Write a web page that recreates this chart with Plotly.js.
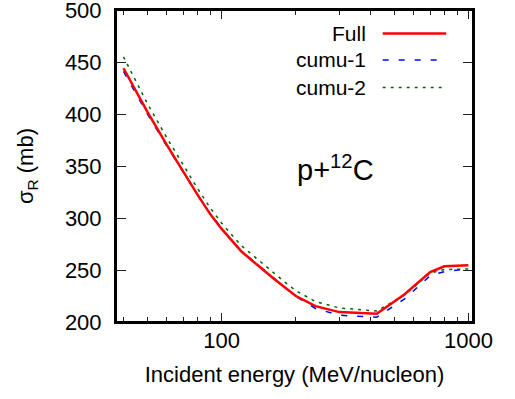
<!DOCTYPE html>
<html>
<head>
<meta charset="utf-8">
<script src="https://cdn.plot.ly/plotly-3.0.1.min.js"></script>
<style>html,body{margin:0;padding:0;background:#fff}#chart{width:515px;height:399px}</style>
</head>
<body>
<div id="chart"></div>
<script>
// Incident energy (MeV/nucleon)
const energy = [40, 50, 60, 70, 80, 90, 100, 120, 140, 160, 180, 200, 240, 300, 425, 550, 700, 800, 1000];
// Reaction cross section sigma_R (mb)
const full  = [444, 402, 370, 344, 322, 303.5, 289.5, 268, 254.5, 243, 233.5, 225, 215.2, 209.5, 208, 226.5, 248, 253.5, 254.5];
const cumu1 = [441, 400, 369, 343.5, 322, 304, 290, 268.5, 255, 243.5, 233.5, 224.5, 213, 206.5, 204.5, 222, 244.5, 248.5, 251];
const cumu2 = [455, 410, 377, 350.5, 328, 309.5, 295, 273.5, 260, 248, 238.5, 230, 219.7, 213.5, 210.5, 226, 247, 250.5, 251];
const seriesNames = ['Full', 'cumu-1', 'cumu-2'];
const yTicks = [200, 250, 300, 350, 400, 450, 500];

const FONT = 'Liberation Sans, Arial, sans-serif';
const FS = 22;
const styles = [
  {color: '#ff0000', width: 2.5, dash: 'solid'},
  {color: '#0000ff', width: 1.5, dash: '6px,10px'},
  {color: '#006400', width: 1.5, dash: '3px,5px'}
];
const ys = [full, cumu1, cumu2];

const traces = ys.map((y, i) => ({
  x: energy, y: y, type: 'scatter', mode: 'lines', name: seriesNames[i],
  line: {color: styles[i].color, width: styles[i].width, dash: styles[i].dash},
  showlegend: false
}));
const ordered = [traces[2], traces[1], traces[0]];

const keyY = [0.925, 0.84, 0.752];
const annotations = seriesNames.map((n, i) => ({
  xref: 'paper', yref: 'paper', x: 0.705, y: keyY[i], xanchor: 'right', yanchor: 'middle',
  text: n, showarrow: false, font: {family: FONT, size: 21, color: '#000'}
}));
annotations.push({
  xref: 'paper', yref: 'paper', x: 0.615, y: 0.493, xanchor: 'center', yanchor: 'middle',
  text: 'p+<sup>12</sup>C', showarrow: false, font: {family: FONT, size: 29, color: '#000'}
});
const shapes = seriesNames.map((n, i) => ({
  type: 'line', xref: 'paper', yref: 'paper', x0: 0.747, x1: 0.925, y0: keyY[i], y1: keyY[i],
  line: {color: styles[i].color, width: styles[i].width, dash: styles[i].dash}
}));
shapes.push({
  type: 'rect', xref: 'paper', yref: 'paper', x0: 0, x1: 1, y0: 0, y1: 1,
  line: {color: '#000', width: 2}, layer: 'above'
});

const layout = {
  width: 515, height: 399,
  margin: {l: 116, r: 42, t: 10, b: 77},
  paper_bgcolor: '#fff', plot_bgcolor: '#fff',
  font: {family: FONT, size: FS, color: '#000'},
  showlegend: false,
  xaxis: {
    type: 'log', range: [Math.log10(37.3), Math.log10(1044)],
    tickmode: 'linear', tick0: 0, dtick: 1,
    ticks: 'inside', ticklen: 9, tickwidth: 1, tickcolor: '#222',
    minor: {ticks: 'inside', ticklen: 5, tickwidth: 1, tickcolor: '#222', dtick: 'D1', showgrid: false},
    showline: true, linecolor: '#000', linewidth: 2, mirror: 'ticks',
    showgrid: false, zeroline: false,
    tickfont: {family: FONT, size: FS, color: '#000'},
    ticklabelstandoff: -2, ticklabeloverflow: 'allow',
    title: {text: 'Incident energy (MeV/nucleon)', font: {family: FONT, size: FS, color: '#000'}, standoff: 14}
  },
  yaxis: {
    range: [200, 500], tickmode: 'array', tickvals: yTicks, ticktext: yTicks.map(String),
    ticks: 'inside', ticklen: 10, tickwidth: 1, tickcolor: '#222',
    showline: true, linecolor: '#000', linewidth: 2, mirror: 'ticks',
    showgrid: false, zeroline: false,
    tickfont: {family: FONT, size: FS, color: '#000'},
    ticklabelstandoff: 8, ticklabeloverflow: 'allow',
    title: {text: 'σ<sub>R</sub> (mb)', font: {family: FONT, size: FS, color: '#000'}, standoff: 25}
  },
  annotations: annotations,
  shapes: shapes
};

Plotly.newPlot('chart', ordered, layout, {staticPlot: true, displayModeBar: false});
</script>
</body>
</html>
